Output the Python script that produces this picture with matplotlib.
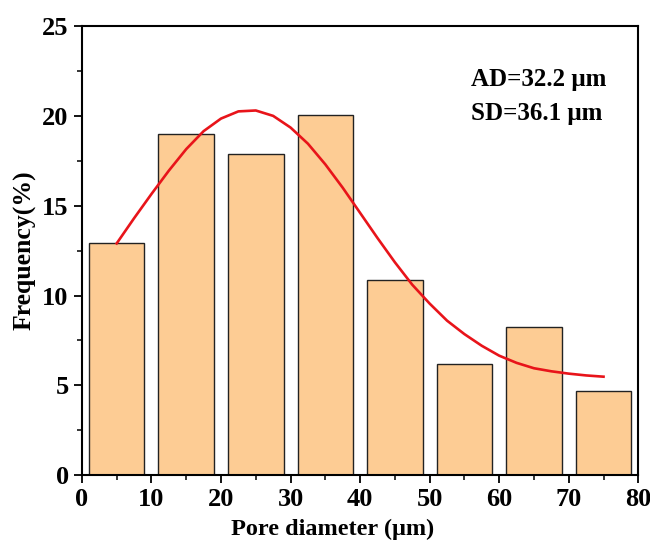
import numpy as np
import matplotlib
matplotlib.use("Agg")
import matplotlib.pyplot as plt
from matplotlib.ticker import MultipleLocator

plt.rcParams['font.family'] = ['Liberation Serif', 'DejaVu Serif']
plt.rcParams['font.weight'] = 'bold'

# histogram bins (centres, um) and frequencies (%)
bin_centers = [5, 15, 25, 35, 45, 55, 65, 75]
freq = [12.9, 19.0, 17.9, 20.05, 10.85, 6.2, 8.25, 4.7]

# fitted curve
fit_x = [5, 7.5, 10, 12.5, 15, 17.5, 20, 22.5, 25, 27.5, 30, 32.5, 35, 37.5,
         40, 42.5, 45, 47.5, 50, 52.5, 55, 57.5, 60, 62.5, 65, 67.5, 70, 72.5, 75]
fit_y = [12.9, 14.3, 15.65, 16.95, 18.15, 19.15, 19.85, 20.25, 20.3, 20.0,
         19.35, 18.45, 17.3, 16.0, 14.6, 13.2, 11.85, 10.6, 9.55, 8.6,
         7.85, 7.2, 6.65, 6.25, 5.95, 5.78, 5.65, 5.55, 5.48]

fig = plt.figure(figsize=(6.5, 5.43), dpi=100)
ax = fig.add_axes([0.126, 0.125, 0.856, 0.827])

ax.bar(bin_centers, freq, width=8, color='#FDCC94', edgecolor='#222222', linewidth=1.0, zorder=2)
ax.plot(fit_x, fit_y, color='#E8141A', linewidth=1.9, zorder=3, solid_joinstyle='round')

ax.set_xlim(0, 80)
ax.set_ylim(0, 25)
ax.xaxis.set_major_locator(MultipleLocator(10))
ax.xaxis.set_minor_locator(MultipleLocator(5))
ax.yaxis.set_major_locator(MultipleLocator(5))
ax.yaxis.set_minor_locator(MultipleLocator(2.5))
ax.tick_params(which='major', direction='out', length=6, width=1.3, labelsize=19, pad=3.5)
ax.tick_params(which='minor', direction='out', length=3.5, width=1.1)
for lab in ax.get_xticklabels() + ax.get_yticklabels():
    lab.set_fontweight('bold')
for s in ax.spines.values():
    s.set_linewidth(1.5)

ax.set_xlabel('Pore diameter (μm)', fontsize=17.5, fontweight='bold', labelpad=0)
ax.xaxis.set_label_coords(0.45, -0.098)
ax.set_ylabel('Frequency(%)', fontsize=18.5, fontweight='bold', labelpad=4)

ax.text(56, 22.05, 'AD=32.2 μm', fontsize=18, fontweight='bold', va='center', ha='left')
ax.text(56, 20.15, 'SD=36.1 μm', fontsize=18, fontweight='bold', va='center', ha='left')

fig.savefig('out.png', dpi=100)
